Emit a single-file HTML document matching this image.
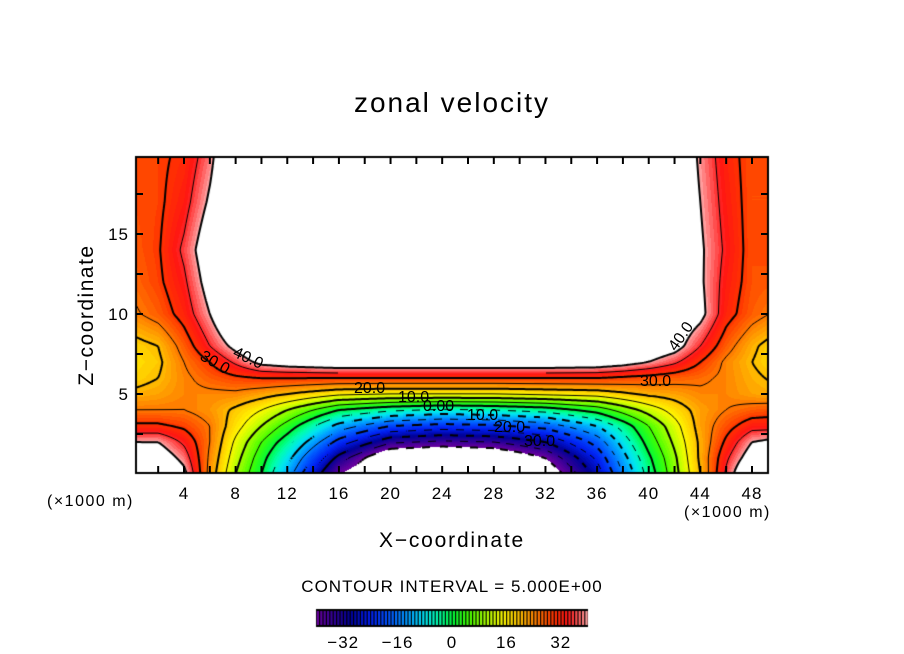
<!DOCTYPE html>
<html><head><meta charset="utf-8">
<style>
html,body{margin:0;padding:0;background:#fff;}
#wrap{position:relative;width:904px;height:654px;overflow:hidden;font-family:"Liberation Sans",sans-serif;}
canvas{position:absolute;left:0;top:0;}
svg{position:absolute;left:0;top:0;}
</style></head>
<body>
<div id="wrap">
<canvas id="cv" width="904" height="654"></canvas>
<svg id="sv" width="904" height="654">
<text x="452" y="112" text-anchor="middle" font-size="28" letter-spacing="2" fill="#000">zonal velocity</text>
<text transform="translate(93,315) rotate(-90)" text-anchor="middle" font-size="21" letter-spacing="1.5" fill="#000">Z−coordinate</text>
<text x="452" y="547" text-anchor="middle" font-size="21" letter-spacing="1.8" fill="#000">X−coordinate</text>
<text x="47" y="506" font-size="16" letter-spacing="1.5" fill="#000">(×1000 m)</text>
<text x="684" y="517" font-size="16" letter-spacing="1.5" fill="#000">(×1000 m)</text>
<text x="452" y="592" text-anchor="middle" font-size="17" letter-spacing="1" fill="#000">CONTOUR INTERVAL = 5.000E+00</text>
<g id="ticks"></g>
<g id="labels" font-size="16" fill="#000">
<text transform="translate(232,356) rotate(25)">40.0</text>
<text transform="translate(199,359) rotate(30)">30.0</text>
<text x="354" y="393">20.0</text>
<text x="398" y="402">10.0</text>
<text x="423" y="411">0.00</text>
<text x="467" y="420">10.0</text>
<text x="494" y="432">20.0</text>
<text x="524" y="446">30.0</text>
<text transform="translate(676,352) rotate(-55)">40.0</text>
<text x="640" y="386">30.0</text>
</g>
</svg>
</div>
<script>
// ---- data grid ----
const xs = [0,2,4,6,8,10,12,16,20,24,28,32,36,38,40,42,44,46,48,50];
const zs = [0,1,2,3,4,5,6,7,8,10,12,14,17,20];
const row_z0  = [50,50,42,23,10,0,-12,-40,-50,-50,-50,-46,-28,-15,-3,8,20,36,50,50];
const row_z1  = [48,45,38,24,12,2,-8,-32,-48,-50,-48,-40,-24,-12,-1,9,21,34,44,46];
const row_z2  = [40,40,34,25,14,5,-3,-22,-34,-36,-35,-30,-18,-8,2,11,21,31,40,42];
const row_z3  = [31,31,29,25,17,10,3,-12,-20,-22,-21,-18,-10,-3,5,13,22,28,33,33];
const row_z4  = [25,25,25,23,19,15,10,0,-4,-6,-5,-3,2,7,12,17,22,25,27,28];
const row_z5  = [21,22,24,24,24,22,20,16,15,15,15,16,17,19,21,22,24,24,22,21];
const row_z6  = [18,20,24,27,29,30,30,30,30,30,30,30,30,29,28,27,26,24,21,19];
const row_z7  = [17,19,25,30,36,42,44,46,46,46,46,46,45,43,40,36,30,24,20,17];
const row_z8  = [18,20,27,35,42,48,50,50,50,50,50,50,50,50,46,43,35,27,21,17];
const row_z10 = [24,27,32,40,50,50,50,50,50,50,50,50,50,50,50,46,42,32,27,24];
const row_z12 = [26,29,34,43,50,50,50,50,50,50,50,50,50,50,50,45,41,33,28,27];
const row_z14 = [27,29.5,36,45,50,50,50,50,50,50,50,50,50,50,50,46,41,34,28,29];
const row_z17 = [28,29,33,41,50,50,50,50,50,50,50,50,50,50,50,46,40,33,28,28];
const row_z20 = [28,29,31,38,50,50,50,50,50,50,50,50,50,50,50,46,39,32,28,28];
const uRows = [row_z0,row_z1,row_z2,row_z3,row_z4,row_z5,row_z6,row_z7,row_z8,row_z10,row_z12,row_z14,row_z17,row_z20];
const xTicks = [4,8,12,16,20,24,28,32,36,40,44,48];
const zTicks = [5,10,15];
const cbTicks = [-32,-16,0,16,32];

// ---- axes ----
const PL=136, PR=768, PT=157, PB=473;
const xPx = x => 184 + (x-4)*12.909;
const zPx = z => 474 - z*16;
const pxX = p => (p-184)/12.909 + 4;
const pxZ = p => (474-p)/16;

function seg(arr, v){
  let i=0; while(i<arr.length-2 && v>arr[i+1]) i++;
  let t=(v-arr[i])/(arr[i+1]-arr[i]); t=Math.max(0,Math.min(1,t));
  return [i,t];
}
function field(x,z){
  const [i,tx]=seg(xs,x), [j,tz]=seg(zs,z);
  const a=uRows[j][i], b=uRows[j][i+1], c=uRows[j+1][i], d=uRows[j+1][i+1];
  return (a*(1-tx)+b*tx)*(1-tz)+(c*(1-tx)+d*tx)*tz;
}
const stops=[[-40,[110,0,160]],[-35,[50,0,150]],[-30,[0,0,150]],[-24,[0,30,240]],[-18,[0,90,255]],[-12,[0,170,255]],[-8,[0,230,240]],[-4,[0,255,170]],[0,[0,250,60]],[5,[70,255,0]],[10,[170,255,0]],[15,[255,250,0]],[20,[255,190,0]],[25,[255,120,0]],[30,[255,50,0]],[34,[255,20,20]],[37,[255,90,90]],[40,[255,170,170]]];
function color(v){
  if(v<=stops[0][0]) return stops[0][1];
  for(let k=0;k<stops.length-1;k++){
    const [v0,c0]=stops[k],[v1,c1]=stops[k+1];
    if(v<=v1){const t=(v-v0)/(v1-v0);return c0.map((c,n)=>Math.round(c+(c1[n]-c)*t));}
  }
  return stops[stops.length-1][1];
}
const cv=document.getElementById('cv'); const ctx=cv.getContext('2d');
ctx.fillStyle='#fff'; ctx.fillRect(0,0,904,654);
const W=PR-PL, H=PB-PT;
const img=ctx.createImageData(W,H);
for(let py=0;py<H;py++){for(let px=0;px<W;px++){
  const v=field(pxX(PL+px+0.5),pxZ(PT+py+0.5));
  const o=(py*W+px)*4; let c;
  if(v>40||v<-40) c=[255,255,255]; else c=color(Math.floor(v)+0.5);
  img.data[o]=c[0];img.data[o+1]=c[1];img.data[o+2]=c[2];img.data[o+3]=255;
}}
ctx.putImageData(img,PL,PT);
// contours via marching squares
const S=2, NX=Math.ceil(W/S)+1, NY=Math.ceil(H/S)+1;
const G=[];
for(let j=0;j<NY;j++){G.push([]);for(let i=0;i<NX;i++){G[j].push(field(pxX(PL+i*S),pxZ(PT+j*S)));}}
ctx.save(); ctx.beginPath(); ctx.rect(PL,PT,W,H); ctx.clip();
ctx.strokeStyle='#000';
for(let L=-40;L<=40;L+=5){
  const bold=(L%10===0);
  ctx.lineWidth=bold?2:1;
  ctx.beginPath();
  for(let j=0;j<NY-1;j++){for(let i=0;i<NX-1;i++){
    if(L<0 && (((i+j)>>2)&1)) continue;
    const a=G[j][i],b=G[j][i+1],c=G[j+1][i+1],d=G[j+1][i];
    const pts=[];
    const e=(v1,v2,x1,y1,x2,y2)=>{if((v1-L)*(v2-L)<0){const t=(L-v1)/(v2-v1);pts.push([x1+(x2-x1)*t,y1+(y2-y1)*t]);}};
    const X=PL+i*S,Y=PT+j*S;
    e(a,b,X,Y,X+S,Y);e(b,c,X+S,Y,X+S,Y+S);e(d,c,X,Y+S,X+S,Y+S);e(a,d,X,Y,X,Y+S);
    for(let k=0;k+1<pts.length;k+=2){ctx.moveTo(pts[k][0],pts[k][1]);ctx.lineTo(pts[k+1][0],pts[k+1][1]);}
  }}
  ctx.stroke();
}
ctx.restore();
ctx.lineWidth=2; ctx.strokeStyle='#000'; ctx.strokeRect(PL,PT,W,H);
// colorbar
const CB0=316, CB1=588, CBT=609, CBB=627;
const cbx = v => 452 + v*3.4;
ctx.fillStyle='#000'; ctx.fillRect(CB0,CBT,CB1-CB0,CBB-CBT);
for(let v=-40;v<40;v++){
  const c=color(v+0.5); ctx.fillStyle=`rgb(${c[0]},${c[1]},${c[2]})`;
  ctx.fillRect(cbx(v)+0.8,CBT+2,2.2,CBB-CBT-4);
}
// SVG ticks & labels
const NS='http://www.w3.org/2000/svg';
const tg=document.getElementById('ticks'); const sv=document.getElementById('sv');
function line(x1,y1,x2,y2){const l=document.createElementNS(NS,'line');l.setAttribute('x1',x1);l.setAttribute('y1',y1);l.setAttribute('x2',x2);l.setAttribute('y2',y2);l.setAttribute('stroke','#000');l.setAttribute('stroke-width','2');


tg.appendChild(l);}
for(let x=2;x<=48;x+=2){const p=xPx(x);line(p,PB,p,PB-7);line(p,PT,p,PT+7);}
for(let z=2.5;z<20;z+=2.5){const p=zPx(z);line(PL,p,PL+7,p);line(PR,p,PR-7,p);}
function txt(x,y,s,anchor,size){const t=document.createElementNS(NS,'text');t.setAttribute('x',x);t.setAttribute('y',y);t.setAttribute('font-size',size);t.setAttribute('letter-spacing','1');t.setAttribute('text-anchor',anchor);t.textContent=s;sv.appendChild(t);return t;}
xTicks.forEach(x=>{const t=txt(xPx(x),499,String(x),'middle',17);

});
zTicks.forEach(z=>{const t=txt(129,zPx(z)+6,String(z),'end',17);

});
cbTicks.forEach(v=>{const t=txt(cbx(v),648,(v<0?'−':'')+Math.abs(v),'middle',17);

});
</script>
</body></html>
